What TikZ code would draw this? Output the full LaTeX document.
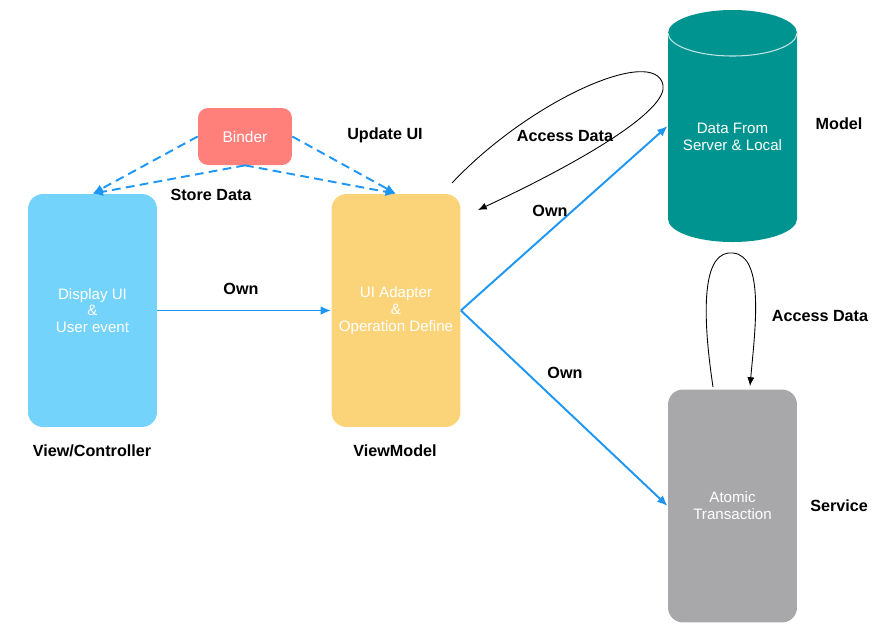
\documentclass[tikz,border=0pt]{standalone}
\usepackage{fontspec}
\setmainfont{Liberation Sans}
\usetikzlibrary{arrows.meta, positioning, shapes.geometric}
\definecolor{viewblue}{RGB}{116,211,251}
\definecolor{vmyellow}{RGB}{251,212,122}
\definecolor{binderred}{RGB}{255,127,122}
\definecolor{modelteal}{RGB}{0,148,144}
\definecolor{servicegray}{RGB}{168,167,170}
\definecolor{linkblue}{RGB}{30,150,245}

\tikzset{
  panel/.style={rectangle, rounded corners=0.3cm, minimum width=2.58cm,
                minimum height=4.66cm, text=white, align=center,
                font=\fontsize{8.6}{9.6}\selectfont},
  tag/.style={font=\fontsize{9.2}{11}\selectfont\bfseries},
  own/.style={draw=linkblue, line width=1.1pt, -{Latex[length=6pt,width=5pt]}},
  bind/.style={own, dash pattern=on 5pt off 3pt},
  access/.style={draw=black, line width=0.5pt, -{Latex[length=5pt,width=4pt]}}
}

\begin{document}
\begin{tikzpicture}[x=0.02cm, y=-0.02cm]
  \useasboundingbox (0,0) rectangle (892,640);

  % boxes
  \node[panel, fill=viewblue] (view) at (92.5,310.5) {Display UI\\\&\\User event};
  \node[panel, fill=vmyellow] (vm) at (396,310.5) {UI Adapter\\\&\\Operation Define};
  \node[panel, fill=servicegray] (service) at (732.5,506) {Atomic\\Transaction};
  \node[rectangle, rounded corners=0.2cm, fill=binderred, text=white,
        minimum width=1.88cm, minimum height=1.14cm,
        font=\fontsize{8.8}{10}\selectfont] (binder) at (245,136.5) {Binder};

  % model store (cylinder)
  \fill[modelteal] (668,33) .. controls (668,20.3) and (696.9,10) .. (732.5,10)
                   .. controls (768.1,10) and (797,20.3) .. (797,33)
                   -- (797,219) .. controls (797,231.7) and (768.1,242) .. (732.5,242)
                   .. controls (696.9,242) and (668,231.7) .. (668,219) -- cycle;
  \draw[white!75!modelteal, line width=0.6pt]
    (668,33) .. controls (668,45.7) and (696.9,56) .. (732.5,56)
             .. controls (768.1,56) and (797,45.7) .. (797,33);
  \node[minimum width=2.58cm, minimum height=4.64cm, inner sep=0pt] (data) at (732.5,126) {};
  \node[text=white, align=center, font=\fontsize{8.6}{9.6}\selectfont] (datatext)
    at (732.5,137) {Data From\\Server \& Local};

  % layer names
  \node[tag] (viewname) at (92,451) {View/Controller};
  \node[tag] (vmname) at (395,451) {ViewModel};
  \node[tag] (modelname) at (839,124) {Model};
  \node[tag] (servicename) at (839,506) {Service};

  % binder links
  \draw[bind] (binder.west) -- (view.north);
  \draw[bind] (binder.south) -- (view.north);
  \draw[bind] (binder.east) -- (vm.north);
  \draw[bind] (binder.south) -- (vm.north);
  \node[tag] (updatelbl) at (385,135) {Update UI};
  \node[tag] (storelbl) at (211,195) {Store Data};

  % ownership
  \draw[own] (view.east) -- (vm.west);
  \draw[own] (vm.east) -- (data.west);
  \draw[own] (vm.east) -- (service.west);
  \node[tag] (own1) at (241,289) {Own};
  \node[tag] (own2) at (550,211) {Own};
  \node[tag] (own3) at (565,373) {Own};

  % data access loops
  \coordinate (vmout) at (452,183);
  \coordinate (vmin) at (478,210);
  \coordinate (svout) at (713,387);
  \coordinate (svin) at (750,386);
  \draw[access] (vmout) .. controls (530,100) and (655,45) .. (663,85)
                        .. controls (668,110) and (585,160) .. (vmin);
  \draw[access] (svout) .. controls (700,300) and (705,250) .. (733,253)
                        .. controls (765,256) and (755,330) .. (svin);
  \node[tag] (access1) at (565,136) {Access Data};
  \node[tag] (access2) at (820,316) {Access Data};
\end{tikzpicture}
\end{document}
